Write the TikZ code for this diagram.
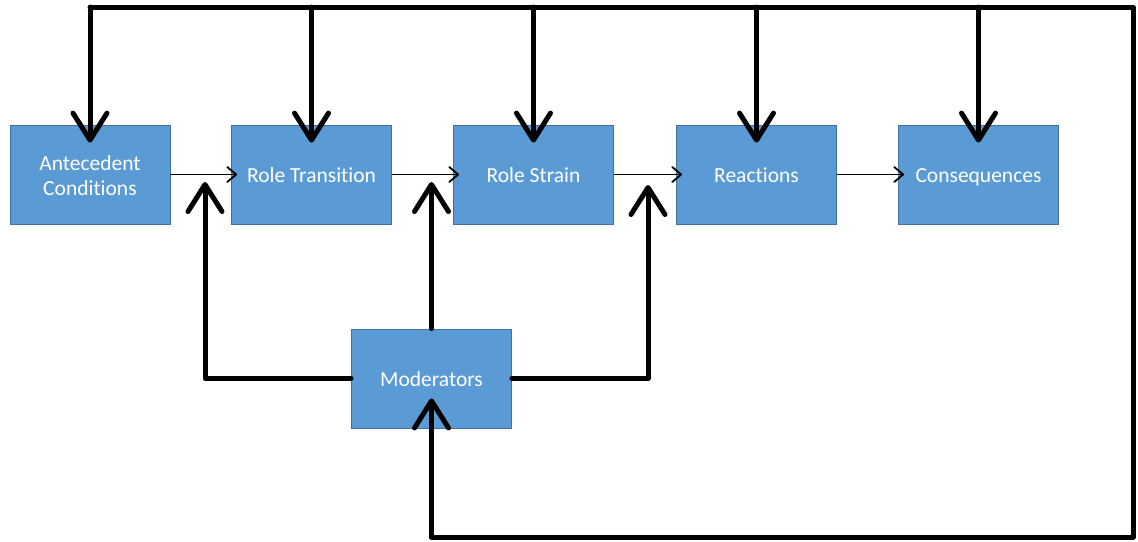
\documentclass[tikz,border=0pt]{standalone}
\usepackage{fontspec}
\setmainfont{Carlito}[Ligatures=NoCommon]
\usetikzlibrary{arrows.meta}
\definecolor{boxfill}{HTML}{5B9BD5}
\definecolor{boxline}{HTML}{41719C}
% fixed line box so every label sits at the same height
\newcommand\lnstrut{\rule[-4.5pt]{0pt}{25pt}}
\begin{document}
\begin{tikzpicture}[x=1pt,y=-1pt,
  stage/.style={rectangle, draw=boxline, line width=0.8pt, fill=boxfill,
    minimum width=160pt, minimum height=99pt, inner sep=0pt,
    text=white, font=\fontsize{21.5}{25}\selectfont, align=center},
  flow/.style={line width=1.8pt, shorten >=-6pt,
    -{Straight Barb[length=9pt,width=15pt,round]}},
  feedback/.style={line width=5pt, line join=round, line cap=round},
  feedarrow/.style={feedback, -{Straight Barb[length=27pt,width=34pt,round]}}]
\useasboundingbox (0,0) rectangle (1138,541);

% the five stages of the process and the moderators
\node[stage] (ant) at (90,174.5) {\lnstrut Antecedent\\\lnstrut Conditions};
\node[stage] (rt)  at (311.5,174.5) {\lnstrut Role Transition};
\node[stage] (rs)  at (533.5,174.5) {\lnstrut Role Strain};
\node[stage] (re)  at (756.5,174.5) {\lnstrut Reactions};
\node[stage] (co)  at (978.5,174.5) {\lnstrut Consequences};
\node[stage] (mod) at (431.5,378.5) {\lnstrut Moderators};

% main sequence
\draw[flow] (ant) -- (rt);
\draw[flow] (rt) -- (rs);
\draw[flow] (rs) -- (re);
\draw[flow] (re) -- (co);

% moderating influences on the links
\coordinate (up1) at (205,182);
\coordinate (up3) at (648,185);
\draw[feedarrow] (mod.west) -| (up1);
\draw[feedarrow] (mod.north) -- (mod.north |- up1);
\draw[feedarrow] (mod.east) -| (up3);

% feedback loop across the top and back to the moderators
\coordinate (tl) at (89,7);
\coordinate (tr) at (1133,7);
\coordinate (br) at (1133,537);
\draw[feedback] (ant.north |- tl) -- (tr) -- (br) -- (br -| mod.south);
\draw[feedarrow, shorten >=-30pt] (br -| mod.south) -- (mod.south);
\foreach \n in {ant,rt,rs,re,co}
  \draw[feedarrow, shorten >=-18pt] (\n.north |- tl) -- (\n.north);
\end{tikzpicture}
\end{document}
